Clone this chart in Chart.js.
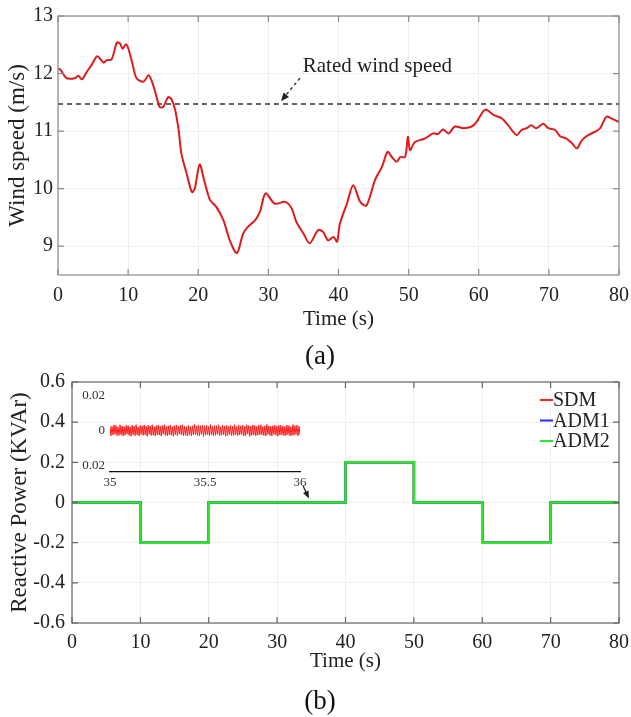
<!DOCTYPE html>
<html>
<head>
<meta charset="utf-8">
<script src="https://cdn.jsdelivr.net/npm/chart.js@4.4.0/dist/chart.umd.min.js"></script>
<style>
body{margin:0;background:#fff;}
#wrap{position:relative;width:631px;height:717px;background:#fff;font-family:"Liberation Serif",serif;overflow:hidden;}
canvas{position:absolute;left:0;}
.tag{position:absolute;font-size:27px;color:#111;transform:translate(-50%,-50%);line-height:1;}
</style>
</head>
<body>
<div id="wrap">
  <canvas id="windChart" style="top:0" width="631" height="335"></canvas>
  <canvas id="powerChart" style="top:365px" width="631" height="320"></canvas>
  <canvas id="insetChart" style="top:382px" width="320" height="115"></canvas>
  <div class="tag" style="left:320px;top:355px">(a)</div>
  <div class="tag" style="left:320px;top:700px">(b)</div>
</div>
<script>
// (a) wind speed
const windTime = [0,0.4,1.2,2.4,2.9,3.4,4.1,4.8,5.6,6.5,
  6.9,7.65,8.4,8.9,9.2,9.7,10.1,10.6,11.2,12.2,
  12.9,13.3,13.8,14.5,15.0,15.7,16.2,16.7,17.2,17.6,
  18.35,19.1,19.5,20.2,20.9,21.7,22.6,23.6,24.5,25.5,
  26.4,27.1,28.1,28.8,29.6,30.9,32.4,33.3,34.0,35.0,
  35.9,37.1,37.8,38.5,39.3,39.8,40.2,41.2,42.1,43.1,
  44.0,45.2,46.2,47.0,47.6,48.3,48.8,49.5,49.9,50.2,
  50.9,52.3,53.5,54.2,54.9,55.7,56.6,57.8,59.0,59.7,
  60.6,61.1,62.1,63.3,64.2,65.4,66.1,66.8,67.5,68.2,
  69.2,69.9,70.9,71.6,72.5,73.3,74.0,74.7,75.6,76.6,
  77.3,78.2,78.9,80];
const windSpeed = [12.09,12.06,11.92,11.92,11.96,11.90,12.03,12.15,12.30,12.19,
  12.23,12.25,12.54,12.51,12.43,12.51,12.41,12.18,11.92,11.86,
  11.97,11.89,11.71,11.42,11.42,11.59,11.55,11.37,11.02,10.61,
  10.26,9.94,10.0,10.42,10.12,9.80,9.68,9.45,9.10,8.88,
  9.22,9.34,9.45,9.60,9.92,9.74,9.77,9.66,9.42,9.22,
  9.05,9.28,9.25,9.10,9.16,9.08,9.39,9.74,10.06,9.77,
  9.71,10.15,10.38,10.64,10.55,10.47,10.55,10.55,10.90,10.67,
  10.81,10.87,10.96,10.95,11.03,10.96,11.08,11.05,11.08,11.16,
  11.34,11.37,11.28,11.22,11.10,10.93,11.02,11.05,11.10,11.05,
  11.13,11.05,11.02,10.91,10.87,10.79,10.70,10.84,10.93,10.99,
  11.05,11.25,11.22,11.16];
const ratedSpeed = 11.47;
const windTicksY = [9,10,11,12,13];
const timeTicks = [0,10,20,30,40,50,60,70,80];

// (b) reactive power
const powerTime = [0,10,20,40,50,60,70,80];
const sdmPower  = [0,-0.2,0,0.2,0,-0.2,0,0];
const adm1Power = [0,-0.2,0,0.2,0,-0.2,0,0];
const adm2Power = [0,-0.2,0,0.2,0,-0.2,0,0];
const powerTicksY = [-0.6,-0.4,-0.2,0,0.2,0.4,0.6];

// inset, 35 s .. 36 s (SDM ripple)
const insetTicksX = [35,35.5,36];
const insetTicksY = [-0.02,0,0.02];
const insetSdm = [
  0.0027,-0.0031,0.0024,-0.0026,0.0032,-0.0022,0.0029,-0.0030,0.0021,-0.0028,
  0.0033,-0.0025,0.0026,-0.0032,0.0023,-0.0027,0.0030,-0.0021,0.0028,-0.0029,
  0.0022,-0.0033,0.0031,-0.0024,0.0025,-0.0030,0.0034,-0.0026,0.0020,-0.0031,
  0.0029,-0.0023,0.0027,-0.0028,0.0032,-0.0025,0.0024,-0.0034,0.0030,-0.0022,
  0.0026,-0.0029,0.0033,-0.0027,0.0021,-0.0031,0.0028,-0.0024,0.0031,-0.0026,
  0.0024,-0.0032,0.0029,-0.0021,0.0034,-0.0028,0.0023,-0.0030,0.0027,-0.0025,
  0.0031,-0.0027,0.0022,-0.0033,0.0028,-0.0024,0.0032,-0.0029,0.0025,-0.0021,
  0.0030,-0.0026,0.0033,-0.0030,0.0024,-0.0028,0.0021,-0.0032,0.0029,-0.0027,
  0.0023,-0.0031,0.0027,-0.0025,0.0035,-0.0023,0.0026,-0.0029,0.0032,-0.0030,
  0.0028,-0.0022,0.0030,-0.0034,0.0025,-0.0027,0.0031,-0.0024,0.0022,-0.0029,
  0.0034,-0.0026,0.0024,-0.0031,0.0029,-0.0028,0.0027,-0.0022,0.0033,-0.0030,
  0.0021,-0.0027,0.0032,-0.0025,0.0026,-0.0033,0.0030,-0.0029,0.0024,-0.0023,
  0.0029,-0.0031,0.0025,-0.0028,0.0034,-0.0024,0.0022,-0.0030,0.0031,-0.0026,
  0.0027,-0.0023,0.0030,-0.0032,0.0023,-0.0029,0.0033,-0.0021,0.0028,-0.0034,
  0.0025,-0.0028,0.0031,-0.0026,0.0029,-0.0030,0.0024,-0.0027,0.0032,-0.0025,
  0.0033,-0.0024,0.0022,-0.0029,0.0027,-0.0031,0.0035,-0.0023,0.0026,-0.0028,
  0.0024,-0.0032,0.0028,-0.0022,0.0031,-0.0027,0.0025,-0.0033,0.0030,-0.0026,
  0.0030,-0.0025,0.0026,-0.0030,0.0023,-0.0028,0.0032,-0.0024,0.0029,-0.0031,
  0.0022,-0.0029,0.0034,-0.0027,0.0028,-0.0023,0.0031,-0.0030,0.0025,-0.0027];

Chart.defaults.font.family = '"Liberation Serif", "Times New Roman", serif';
Chart.defaults.color = '#222';

function pts(xs, ys) {
  return xs.map((x, i) => ({x: x, y: ys[i]}));
}

// MATLAB style box with inward ticks
const frameTicks = {
  id: 'frameTicks',
  afterDraw(chart, args, opts) {
    const {ctx, chartArea: a, scales: {x, y}} = chart;
    ctx.save();
    ctx.strokeStyle = opts.color;
    ctx.lineWidth = 1.2;
    ctx.strokeRect(a.left, a.top, a.width, a.height);
    ctx.beginPath();
    x.ticks.forEach(t => {
      const px = x.getPixelForValue(t.value);
      ctx.moveTo(px, a.bottom); ctx.lineTo(px, a.bottom - 6);
      ctx.moveTo(px, a.top); ctx.lineTo(px, a.top + 6);
    });
    y.ticks.forEach(t => {
      const py = y.getPixelForValue(t.value);
      ctx.moveTo(a.left, py); ctx.lineTo(a.left + 6, py);
      ctx.moveTo(a.right, py); ctx.lineTo(a.right - 6, py);
    });
    ctx.stroke();
    ctx.restore();
  }
};

function drawArrow(ctx, x0, y0, x1, y1, dash, head, color) {
  const ang = Math.atan2(y1 - y0, x1 - x0);
  ctx.save();
  ctx.strokeStyle = color; ctx.fillStyle = color; ctx.lineWidth = 1.3;
  ctx.setLineDash(dash);
  ctx.beginPath();
  ctx.moveTo(x0, y0);
  ctx.lineTo(x1 - Math.cos(ang) * head * 0.8, y1 - Math.sin(ang) * head * 0.8);
  ctx.stroke();
  ctx.setLineDash([]);
  ctx.beginPath();
  ctx.moveTo(x1, y1);
  ctx.lineTo(x1 - head * Math.cos(ang - 0.4), y1 - head * Math.sin(ang - 0.4));
  ctx.lineTo(x1 - head * Math.cos(ang + 0.4), y1 - head * Math.sin(ang + 0.4));
  ctx.closePath();
  ctx.fill();
  ctx.restore();
}

const annotate = {
  id: 'annotate',
  afterDraw(chart, args, opts) {
    const {ctx, scales: {x, y}} = chart;
    (opts.arrows || []).forEach(ar => {
      drawArrow(ctx, x.getPixelForValue(ar.from[0]), y.getPixelForValue(ar.from[1]),
        x.getPixelForValue(ar.to[0]), y.getPixelForValue(ar.to[1]), ar.dash, ar.head, '#222');
    });
    (opts.texts || []).forEach(tx => {
      ctx.save();
      ctx.font = tx.size + 'px "Liberation Serif", serif';
      ctx.fillStyle = '#222';
      ctx.textBaseline = 'middle';
      ctx.fillText(tx.text, x.getPixelForValue(tx.at[0]), y.getPixelForValue(tx.at[1]));
      ctx.restore();
    });
  }
};

// legend drawn inside the axes, top right
const lineLegend = {
  id: 'lineLegend',
  afterDraw(chart) {
    const {ctx, chartArea: a} = chart;
    ctx.save();
    ctx.font = '20px "Liberation Serif", serif';
    ctx.textBaseline = 'middle';
    chart.data.datasets.forEach((ds, i) => {
      const yy = a.top + 18 + i * 20.5;
      ctx.strokeStyle = ds.borderColor;
      ctx.lineWidth = 2;
      ctx.beginPath();
      ctx.moveTo(a.right - 79, yy); ctx.lineTo(a.right - 66, yy);
      ctx.stroke();
      ctx.fillStyle = '#222';
      ctx.fillText(ds.label, a.right - 66, yy + 1);
    });
    ctx.restore();
  }
};

const gridStyle = {color: '#efefef', drawTicks: false};

function fixX(h) {
  return s => { s.height = h; s.paddingLeft = 0; s.paddingRight = 0; };
}
function fixY(w) {
  return s => { s.width = w; s.paddingTop = 0; s.paddingBottom = 0; };
}

new Chart(document.getElementById('windChart'), {
  type: 'line',
  data: {
    datasets: [{
      label: 'Wind speed',
      data: pts(windTime, windSpeed),
      borderColor: '#e01b1b',
      borderWidth: 2,
      pointRadius: 0,
      tension: 0.3
    }, {
      label: 'Rated wind speed',
      data: pts([0, 80], [ratedSpeed, ratedSpeed]),
      borderColor: '#333',
      borderWidth: 1.6,
      borderDash: [5, 4],
      pointRadius: 0
    }]
  },
  options: {
    responsive: false,
    animation: false,
    layout: {padding: {left: 0, top: 16, right: 12, bottom: 0}},
    plugins: {
      legend: {display: false},
      tooltip: {enabled: false},
      frameTicks: {color: '#8a8a8a'},
      annotate: {
        arrows: [{from: [34.5, 11.92], to: [31.8, 11.52], dash: [3, 3], head: 9}],
        texts: [{text: 'Rated wind speed', at: [34.9, 12.12], size: 21}]
      }
    },
    scales: {
      x: {
        type: 'linear', min: 0, max: 80,
        afterBuildTicks: s => { s.ticks = timeTicks.map(v => ({value: v})); },
        afterFit: fixX(60),
        grid: gridStyle, border: {display: false},
        ticks: {font: {size: 20}, padding: 9, color: '#222'},
        title: {display: true, text: 'Time (s)', font: {size: 21}, color: '#222', padding: {top: 0, bottom: 3}}
      },
      y: {
        min: 8.5, max: 13,
        afterBuildTicks: s => { s.ticks = windTicksY.map(v => ({value: v})); },
        afterFit: fixY(58),
        grid: gridStyle, border: {display: false},
        ticks: {font: {size: 20}, padding: 5, color: '#222'},
        title: {display: true, text: 'Wind speed (m/s)', font: {size: 23}, color: '#222', padding: {top: 4, bottom: 0}}
      }
    }
  },
  plugins: [frameTicks, annotate]
});

new Chart(document.getElementById('powerChart'), {
  type: 'line',
  data: {
    datasets: [{
      label: 'SDM', data: pts(powerTime, sdmPower), order: 3,
      borderColor: '#ff2222', borderWidth: 2.5, pointRadius: 0, stepped: true
    }, {
      label: 'ADM1', data: pts(powerTime, adm1Power), order: 2,
      borderColor: '#2a2aff', borderWidth: 2.5, pointRadius: 0, stepped: true
    }, {
      label: 'ADM2', data: pts(powerTime, adm2Power), order: 1,
      borderColor: '#2ae82a', borderWidth: 2.5, pointRadius: 0, stepped: true
    }]
  },
  options: {
    responsive: false,
    animation: false,
    layout: {padding: {left: 0, top: 17, right: 12, bottom: 0}},
    plugins: {
      legend: {display: false},
      tooltip: {enabled: false},
      frameTicks: {color: '#666'},
      annotate: {
        arrows: [{from: [33.8, 0.082], to: [34.65, 0.02], dash: [], head: 8}]
      }
    },
    scales: {
      x: {
        type: 'linear', min: 0, max: 80,
        afterBuildTicks: s => { s.ticks = timeTicks.map(v => ({value: v})); },
        afterFit: fixX(62),
        grid: gridStyle, border: {display: false},
        ticks: {font: {size: 20}, padding: 8, color: '#222'},
        title: {display: true, text: 'Time (s)', font: {size: 21}, color: '#222', padding: {top: 0, bottom: 11}}
      },
      y: {
        min: -0.6, max: 0.6,
        afterBuildTicks: s => { s.ticks = powerTicksY.map(v => ({value: v})); },
        afterFit: fixY(72),
        grid: gridStyle, border: {display: false},
        ticks: {font: {size: 20}, padding: 7, color: '#222'},
        title: {display: true, text: 'Reactive Power (KVAr)', font: {size: 23}, color: '#222', padding: {top: 6, bottom: 0}}
      }
    }
  },
  plugins: [frameTicks, annotate, lineLegend]
});

new Chart(document.getElementById('insetChart'), {
  type: 'line',
  data: {
    datasets: [{
      label: 'SDM',
      data: insetSdm.map((v, i) => ({x: 35 + i / (insetSdm.length - 1), y: v})),
      borderColor: '#ff1a1a', borderWidth: 1, pointRadius: 0
    }]
  },
  options: {
    responsive: false,
    animation: false,
    layout: {padding: {left: 0, top: 7, right: 20, bottom: 0}},
    plugins: {legend: {display: false}, tooltip: {enabled: false}},
    scales: {
      x: {
        type: 'linear', min: 35, max: 36,
        afterBuildTicks: s => { s.ticks = insetTicksX.map(v => ({value: v})); },
        afterFit: fixX(25),
        grid: {display: false, drawTicks: false},
        border: {display: true, color: '#111', width: 1.3},
        ticks: {font: {size: 13}, padding: 3, color: '#333', callback: v => String(v)}
      },
      y: {
        min: -0.024, max: 0.024,
        afterBuildTicks: s => { s.ticks = insetTicksY.map(v => ({value: v})); },
        afterFit: fixY(110),
        grid: {display: false, drawTicks: false},
        border: {display: false},
        ticks: {font: {size: 13}, padding: 5, color: '#333',
          callback: v => v === 0 ? '0' : Math.abs(v).toFixed(2)}
      }
    }
  }
});
</script>
</body>
</html>
